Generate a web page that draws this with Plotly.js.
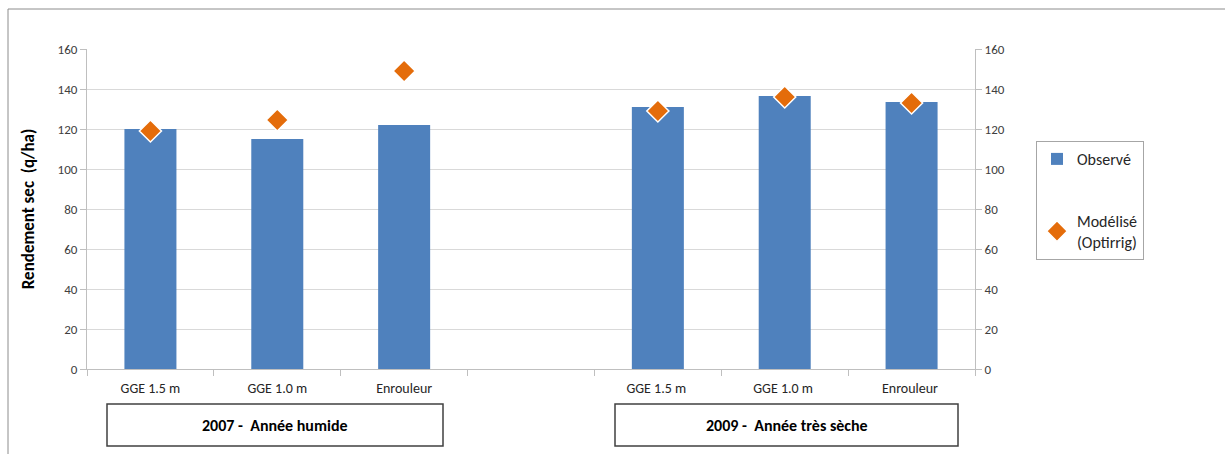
<!DOCTYPE html>
<html>
<head>
<meta charset="utf-8">
<script src="https://cdn.plot.ly/plotly-3.0.1.min.js"></script>
<style>html,body{margin:0;padding:0;background:#fff;}#chart{width:1225px;height:454px;}</style>
</head>
<body>
<div id="chart"></div>
<script>
// Categories (the 4th slot is an empty spacer between the two years)
var categories = ["GGE 1.5 m", "GGE 1.0 m", "Enrouleur", " ", "GGE 1.5 m ", "GGE 1.0 m ", "Enrouleur "];
var observed = [120, 115, 122, null, 131, 136.5, 133.5];
var modeled  = [119, 124.5, 149, null, 129, 136, 133];
var groupLabels = ["2007 -  Année humide", "2009 -  Année très sèche"];
var yTickVals = [0, 20, 40, 60, 80, 100, 120, 140, 160];

var FONT = "Carlito, Calibri, Lato, 'Open Sans', sans-serif";

// plot area in px: x 87..975, y 49..369
var L = 87, R = 975, T = 49, B = 369;
function px(x) { return (x - L) / (R - L); }
function py(y) { return (B - y) / (B - T); }

var traces = [
  {
    type: "bar", name: "Observé", x: categories, y: observed, legendgroup: "obs",
    marker: {color: "#4F81BD"}, width: 0.41, xaxis: "x", yaxis: "y"
  },
  {
    type: "scatter", mode: "markers", name: "Modélisé<br>(Optirrig)", x: categories, y: modeled,
    legendgroup: "mod",
    marker: {symbol: "diamond", color: "#E46C0A", size: 17, line: {color: "#FFFFFF", width: 1.5}},
    xaxis: "x", yaxis: "y2"
  }
];

var axisY = {
  range: [0, 160], tickmode: "array", tickvals: yTickVals,
  showgrid: true, gridcolor: "#D9D9D9", gridwidth: 1,
  showline: true, linecolor: "#BFBFBF", linewidth: 1,
  ticks: "outside", ticklen: 6, tickcolor: "#BFBFBF",
  tickfont: {family: FONT, size: 13, color: "#404040"},
  zeroline: false, fixedrange: true
};

var layout = {
  width: 1225, height: 454,
  margin: {l: L, r: 1225 - R, t: T, b: 454 - B, pad: 0},
  paper_bgcolor: "#FFFFFF", plot_bgcolor: "#FFFFFF",
  font: {family: FONT, size: 13, color: "#404040"},
  bargap: 0.59,
  showlegend: true,
  legend: {
    x: px(1036), y: py(141), xanchor: "left", yanchor: "top",
    bordercolor: "#A6A6A6", borderwidth: 1, bgcolor: "#FFFFFF",
    font: {family: FONT, size: 16, color: "#262626"},
    traceorder: "grouped", tracegroupgap: 38, itemwidth: 30
  },
  xaxis: {
    type: "category", categoryorder: "array", categoryarray: categories,
    range: [-0.5, 6.5],
    showline: true, linecolor: "#BFBFBF", linewidth: 1,
    ticks: "outside", tickson: "boundaries", ticklen: 6, tickcolor: "#BFBFBF",
    ticklabelstandoff: 6,
    showgrid: false, tickfont: {family: FONT, size: 14, color: "#262626"},
    fixedrange: true
  },
  yaxis: Object.assign({}, axisY, {
    title: {text: "Rendement sec  (q/ha)", font: {family: FONT, size: 17, color: "#000000", weight: "bold"}, standoff: 18}
  }),
  yaxis2: Object.assign({}, axisY, {overlaying: "y", side: "right", showgrid: false}),
  shapes: [
    {type: "rect", xref: "paper", yref: "paper", x0: px(8), x1: px(1240), y0: py(470), y1: py(9),
     line: {color: "#8C8C8C", width: 1}},
    {type: "rect", xref: "paper", yref: "paper", x0: px(107), x1: px(443), y0: py(446), y1: py(404),
     line: {color: "#404040", width: 1.5}, fillcolor: "rgba(0,0,0,0)"},
    {type: "rect", xref: "paper", yref: "paper", x0: px(615), x1: px(958), y0: py(446), y1: py(404),
     line: {color: "#404040", width: 1.5}, fillcolor: "rgba(0,0,0,0)"}
  ],
  annotations: [
    {xref: "paper", yref: "paper", x: px(275), y: py(425), text: groupLabels[0], showarrow: false,
     xanchor: "center", yanchor: "middle", font: {family: FONT, size: 16, color: "#000000", weight: "bold"}},
    {xref: "paper", yref: "paper", x: px(786.5), y: py(425), text: groupLabels[1], showarrow: false,
     xanchor: "center", yanchor: "middle", font: {family: FONT, size: 16, color: "#000000", weight: "bold"}}
  ]
};

Plotly.newPlot("chart", traces, layout, {displayModeBar: false, staticPlot: true});
</script>
</body>
</html>
